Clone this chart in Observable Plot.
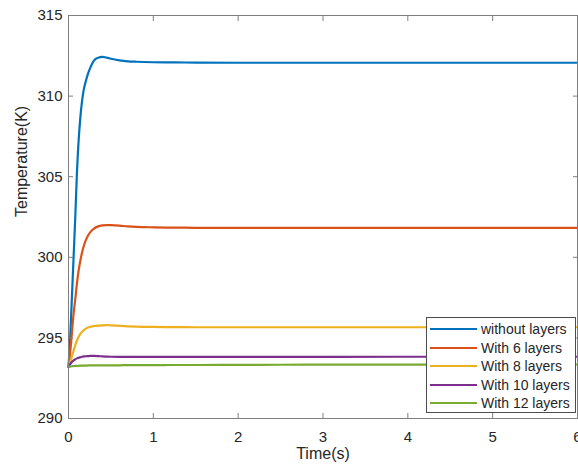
<!DOCTYPE html>
<html>
<head>
<meta charset="utf-8">
<script src="https://cdn.jsdelivr.net/npm/d3@7"></script>
<script src="https://cdn.jsdelivr.net/npm/@observablehq/plot@0.6"></script>
<style>
  html, body { margin: 0; padding: 0; background: #fff; overflow: hidden; }
  #wrap { position: relative; width: 578px; height: 472px; font-family: "Liberation Sans", Arial, Helvetica, sans-serif; }
  #legend {
    position: absolute; left: 426px; top: 317px; width: 150px; height: 96px;
    box-sizing: border-box; border: 1px solid #4d4d4d; background: #fff;
    padding-top: 2px; color: #262626; font-size: 14px;
  }
  .row { display: flex; align-items: center; height: 18.5px; }
  .sw { width: 47px; height: 2.2px; margin-left: 3px; margin-right: 4px; }
</style>
</head>
<body>
<div id="wrap"><div id="legend"></div></div>
<script>
// Simulation time (s)
const time = [0, 0.02, 0.04, 0.06, 0.08, 0.1, 0.12, 0.14, 0.16, 0.18, 0.2, 0.23, 0.26, 0.3, 0.35, 0.4, 0.45, 0.5, 0.6, 0.7, 0.8, 1.0, 1.25, 1.5, 2, 2.5, 3, 4, 5, 6];

// Temperature (K) for each configuration
const withoutLayers = [293.2, 295.0, 297.5, 300.0, 302.5, 305.3, 307.3, 308.7, 309.7, 310.4, 310.85, 311.4, 311.8, 312.2, 312.38, 312.43, 312.39, 312.32, 312.22, 312.16, 312.13, 312.1, 312.09, 312.08, 312.07, 312.07, 312.07, 312.07, 312.07, 312.07];
const with6Layers = [293.2, 294.1, 295.3, 296.5, 297.4, 298.4, 299.2, 299.8, 300.3, 300.7, 301.0, 301.35, 301.58, 301.78, 301.92, 301.98, 302.0, 301.99, 301.96, 301.92, 301.89, 301.86, 301.84, 301.83, 301.82, 301.82, 301.82, 301.82, 301.82, 301.82];
const with8Layers = [293.2, 293.5, 293.85, 294.2, 294.55, 294.85, 295.07, 295.25, 295.38, 295.48, 295.56, 295.64, 295.69, 295.73, 295.76, 295.78, 295.79, 295.78, 295.75, 295.72, 295.7, 295.68, 295.67, 295.66, 295.66, 295.66, 295.66, 295.66, 295.66, 295.66];
const with10Layers = [293.2, 293.38, 293.5, 293.6, 293.67, 293.73, 293.77, 293.8, 293.83, 293.85, 293.86, 293.87, 293.88, 293.88, 293.87, 293.85, 293.84, 293.83, 293.82, 293.82, 293.82, 293.82, 293.82, 293.82, 293.82, 293.82, 293.82, 293.83, 293.83, 293.83];
const with12Layers = [293.2, 293.22, 293.24, 293.25, 293.26, 293.27, 293.27, 293.28, 293.28, 293.28, 293.28, 293.29, 293.29, 293.29, 293.3, 293.3, 293.3, 293.3, 293.3, 293.31, 293.31, 293.31, 293.32, 293.32, 293.33, 293.335, 293.34, 293.345, 293.35, 293.35];

const seriesNames = ["without layers", "With 6 layers", "With 8 layers", "With 10 layers", "With 12 layers"];
const seriesValues = [withoutLayers, with6Layers, with8Layers, with10Layers, with12Layers];
const seriesColors = ["#0072BD", "#D95319", "#EDB120", "#7E2F8E", "#77AC30"];

const xTicks = [0, 1, 2, 3, 4, 5, 6];
const yTicks = [290, 295, 300, 305, 310, 315];

const rows = seriesNames.flatMap((name, k) =>
  time.map((t, i) => ({t, T: seriesValues[k][i], series: name}))
);

const axisGray = "#7f7f7f";
const textColor = "#262626";

const chart = Plot.plot({
  width: 578,
  height: 472,
  marginLeft: 68,
  marginRight: 1,
  marginTop: 15,
  marginBottom: 54,
  x: {domain: [0, 6]},
  y: {domain: [290, 315]},
  color: {domain: seriesNames, range: seriesColors},
  style: {fontFamily: '"Liberation Sans", Arial, Helvetica, sans-serif', fontSize: "15px", color: textColor, background: "white", overflow: "visible"},
  marks: [
    Plot.line(rows, {x: "t", y: "T", z: "series", stroke: "series", strokeWidth: 2.2, curve: "monotone-x"}),
    Plot.frame({stroke: axisGray}),
    // inward ticks on all four sides
    Plot.axisX(xTicks, {anchor: "bottom", tickSize: -5, fill: "none", stroke: axisGray, label: null}),
    Plot.axisX(xTicks, {anchor: "top", tickSize: -5, fill: "none", stroke: axisGray, label: null}),
    Plot.axisY(yTicks, {anchor: "left", tickSize: -5, fill: "none", stroke: axisGray, label: null}),
    Plot.axisY(yTicks, {anchor: "right", tickSize: -5, fill: "none", stroke: axisGray, label: null}),
    // tick labels
    Plot.axisX(xTicks, {anchor: "bottom", tickSize: 0, tickPadding: 13, fill: textColor, label: null}),
    Plot.axisY(yTicks, {anchor: "left", tickSize: 0, tickPadding: 6, fill: textColor, label: null}),
    // axis titles
    Plot.text(["Time(s)"], {frameAnchor: "bottom", dy: 40, fontSize: 16, fill: textColor}),
    Plot.text(["Temperature(K)"], {frameAnchor: "left", dx: -47, rotate: -90, fontSize: 16, fill: textColor})
  ]
});

const wrap = document.getElementById("wrap");
wrap.insertBefore(chart, wrap.firstChild);

// legend box drawn over the lower right of the plot area
const legend = document.getElementById("legend");
seriesNames.forEach((name, k) => {
  const row = document.createElement("div");
  row.className = "row";
  const sw = document.createElement("span");
  sw.className = "sw";
  sw.style.background = seriesColors[k];
  const label = document.createElement("span");
  label.textContent = name;
  row.appendChild(sw);
  row.appendChild(label);
  legend.appendChild(row);
});
</script>
</body>
</html>
